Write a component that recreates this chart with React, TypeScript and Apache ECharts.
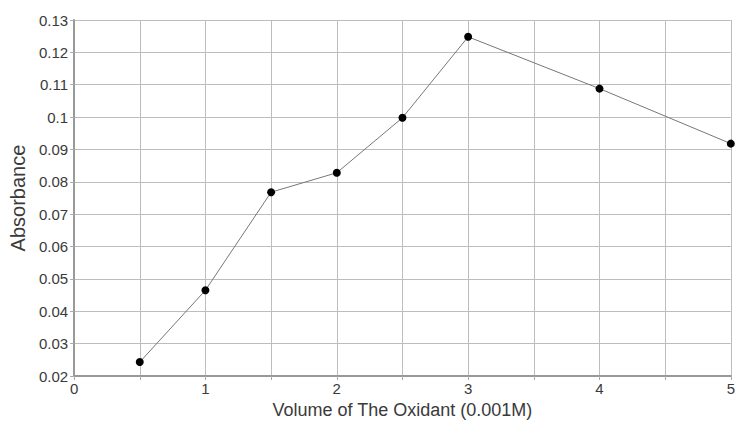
import React, { useEffect, useRef } from "react";
import * as echarts from "echarts";

const xValues = [0.5, 1, 1.5, 2, 2.5, 3, 4, 5];
const absorbance = [0.0243, 0.0465, 0.0768, 0.0828, 0.0998, 0.1248, 0.1088, 0.0918];
const xTitle = "Volume of The Oxidant (0.001M)";
const yTitle = "Absorbance";

export default function App() {
  const ref = useRef<HTMLDivElement>(null);
  useEffect(() => {
    document.body.style.margin = "0";
    const chart = echarts.init(ref.current!, null, { renderer: "svg" });
    const font = "Liberation Sans, Arial, sans-serif";
    chart.setOption({
      animation: false,
      backgroundColor: "#ffffff",
      grid: { left: 72, right: 2, top: 20, bottom: 50 },
      xAxis: {
        type: "value",
        min: 0,
        max: 5,
        interval: 0.5,
        name: xTitle,
        nameLocation: "middle",
        nameGap: 25,
        nameTextStyle: { fontFamily: font, fontSize: 18, color: "#3a3a3a" },
        axisLine: { show: true, lineStyle: { color: "#999", width: 2 } },
        axisTick: { show: true, length: 4, lineStyle: { color: "#aaa" } },
        axisLabel: {
          fontFamily: font,
          fontSize: 15,
          color: "#3a3a3a",
          margin: 5,
          formatter: (v: number) => (Math.abs(v - Math.round(v)) < 1e-6 ? String(Math.round(v)) : ""),
        },
        splitLine: { show: true, lineStyle: { color: "#bdbdbd", width: 1 } },
      },
      yAxis: {
        type: "value",
        min: 0.02,
        max: 0.13,
        interval: 0.01,
        name: yTitle,
        nameLocation: "middle",
        nameGap: 42,
        nameRotate: 90,
        nameTextStyle: { fontFamily: font, fontSize: 20, color: "#3a3a3a" },
        axisLine: { show: true, lineStyle: { color: "#999", width: 2 } },
        axisTick: { show: true, length: 4, lineStyle: { color: "#aaa" } },
        axisLabel: {
          fontFamily: font,
          fontSize: 15,
          color: "#3a3a3a",
          margin: 6,
          formatter: (v: number) => String(+v.toFixed(2)),
        },
        splitLine: { show: true, lineStyle: { color: "#bdbdbd", width: 1 } },
      },
      series: [
        {
          type: "line",
          data: xValues.map((x, i) => [x, absorbance[i]]),
          symbol: "circle",
          symbolSize: 8,
          itemStyle: { color: "#000" },
          lineStyle: { color: "#777", width: 1 },
        },
      ],
    });
    return () => chart.dispose();
  }, []);
  return <div ref={ref} style={{ width: 738, height: 426 }} />;
}
